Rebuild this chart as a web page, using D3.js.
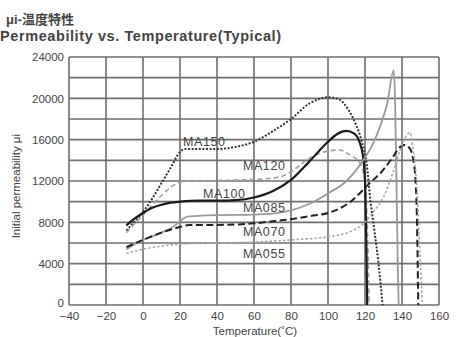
<!DOCTYPE html>
<html>
<head>
<meta charset="utf-8">
<script src="https://cdn.jsdelivr.net/npm/d3@7"></script>
<style>
  body { margin: 0; background: #fff; }
  text { font-family: "Liberation Sans", Arial, sans-serif; fill: #444; }
</style>
</head>
<body>
<div id="chart"></div>
<script>
// temperature (degC) / initial permeability readings per grade
let ma150 = [[-9, 7200], [-5, 8000], [0, 9000], [5, 10300], [10, 11800], [15, 13300], [20, 14800], [23, 15100],
  [30, 15100], [40, 15100], [50, 15300], [60, 15800], [70, 16800], [80, 18000], [90, 19500], [100, 20100],
  [106, 19900], [111, 18900], [115, 17500], [118, 16000], [121, 13500], [123, 10000], [125, 7300], [127, 4500], [129.5, 0]];
let ma120 = [[-9, 7000], [-5, 7800], [0, 8700], [5, 9700], [10, 10600], [15, 11400], [20, 11900], [25, 12000],
  [40, 12050], [60, 12150], [74, 12400], [80, 12900], [90, 14200], [100, 14900], [106, 15000], [112, 14500],
  [117, 13800], [120, 12000], [121.5, 6000], [122.3, 0]];
let ma100 = [[-9, 7700], [-5, 8300], [0, 8900], [5, 9400], [10, 9700], [15, 9900], [20, 10000], [30, 10100],
  [40, 10100], [50, 10150], [60, 10400], [70, 11000], [80, 12100], [90, 13900], [100, 15800], [105, 16550],
  [110, 16850], [114, 16600], [117, 15800], [119, 14300], [120, 12000], [120.7, 6000], [121.2, 0]];
let ma085 = [[-9, 5400], [0, 6300], [10, 7000], [18, 7800], [21, 8250], [24, 8550], [40, 8700], [60, 8750],
  [70, 8850], [80, 9150], [90, 9800], [100, 10800], [110, 12000], [119, 14000], [124, 15500], [128, 17200],
  [132, 19500], [135.5, 22700], [136.3, 19500], [137, 12000], [137.7, 4000], [138.2, 0]];
let ma070 = [[-9, 5600], [0, 6300], [10, 7000], [20, 7550], [25, 7750], [40, 7750], [60, 7900], [70, 8100],
  [80, 8300], [90, 8600], [100, 8900], [112, 9970], [122, 11700], [130, 13100], [135, 14300], [139, 15300],
  [141, 15480], [144, 15200], [146, 14200], [147, 12800], [148, 8900], [148.8, 0]];
let ma055 = [[-9, 5000], [0, 5400], [10, 5700], [20, 5900], [40, 6000], [60, 6100], [80, 6300], [100, 6600],
  [112, 7100], [120, 8000], [124, 8900], [130, 10450], [135, 12770], [139, 15000], [142, 16300], [144.3, 16700],
  [146, 15000], [148, 11500], [149.7, 5000], [151, 0]];

let seriesNames = ["MA150", "MA120", "MA100", "MA085", "MA070", "MA055"];
let seriesData = [ma150, ma120, ma100, ma085, ma070, ma055];

let xTicks = [-40, -20, 0, 20, 40, 60, 80, 100, 120, 140, 160];
let yTicks = [0, 4000, 8000, 12000, 16000, 20000, 24000];
let yGrid = [0, 2000, 4000, 6000, 8000, 10000, 12000, 14000, 16000, 18000, 20000, 22000, 24000];

let styles = {
  MA150: { stroke: "#333", width: 2, dash: "2,1.6" },
  MA120: { stroke: "#a0a0a0", width: 1.6, dash: "5,3" },
  MA100: { stroke: "#1a1a1a", width: 2.2, dash: null },
  MA085: { stroke: "#9a9a9a", width: 1.8, dash: null },
  MA070: { stroke: "#222", width: 2, dash: "7,3.5" },
  MA055: { stroke: "#a8a8a8", width: 1.6, dash: "2.5,2" }
};
// label anchor: [temperature, permeability] where the label text starts
let labelPos = {
  MA150: [21.6, 15770], MA120: [54, 13450], MA100: [32.4, 10740],
  MA085: [54, 9390], MA070: [54, 7060], MA055: [54, 4930]
};

let width = 456, height = 337;
let margin = { top: 57, right: 17, bottom: 32, left: 69 };

let svg = d3.select("#chart").append("svg")
  .attr("width", width)
  .attr("height", height);

let x = d3.scaleLinear().domain([-40, 160]).range([margin.left, width - margin.right]);
let y = d3.scaleLinear().domain([0, 24000]).range([height - margin.bottom, margin.top]);

// grid
svg.append("g").selectAll("line")
  .data(yGrid)
  .enter().append("line")
  .attr("x1", x(-40)).attr("x2", x(160))
  .attr("y1", d => y(d)).attr("y2", d => y(d))
  .attr("stroke", "#6e6e6e").attr("stroke-width", 1.6);

svg.append("g").selectAll("line")
  .data(xTicks)
  .enter().append("line")
  .attr("x1", d => x(d)).attr("x2", d => x(d))
  .attr("y1", y(0)).attr("y2", y(24000))
  .attr("stroke", "#6e6e6e").attr("stroke-width", 1.6);

// axes (labels only)
let yAxis = svg.append("g")
  .attr("transform", "translate(" + x(-40) + ",0)")
  .call(d3.axisLeft(y).tickValues(yTicks).tickSize(0).tickPadding(5).tickFormat(d3.format("d")));
let xAxis = svg.append("g")
  .attr("transform", "translate(0," + y(0) + ")")
  .call(d3.axisBottom(x).tickValues(xTicks).tickSize(0).tickPadding(7)
    .tickFormat(d => d < 0 ? "\u2212" + Math.abs(d) : d));
[yAxis, xAxis].forEach(a => {
  a.select(".domain").remove();
  a.selectAll("text").style("font-size", "11.5px").style("font-family", "\"Liberation Sans\", Arial, sans-serif").attr("fill", "#555");
});
yAxis.selectAll("text").filter(d => d === 0).attr("dy", "0.1em");

// curves
let line = d3.line()
  .x(d => x(d[0]))
  .y(d => y(d[1]))
  .curve(d3.curveMonotoneX);

seriesNames.forEach((name, i) => {
  let s = styles[name];
  svg.append("path")
    .datum(seriesData[i])
    .attr("fill", "none")
    .attr("stroke", s.stroke)
    .attr("stroke-width", s.width)
    .attr("stroke-dasharray", s.dash)
    .attr("d", line);
  svg.append("text")
    .attr("x", x(labelPos[name][0]))
    .attr("y", y(labelPos[name][1]))
    .attr("dy", "0.35em")
    .attr("textLength", 42)
    .style("font-size", "12.5px")
    .attr("fill", "#555")
    .text(name);
});

// titles
svg.append("text")
  .attr("x", 6).attr("y", 24)
  .style("font-size", "13px").style("font-weight", "bold")
  .style("font-family", "\"Liberation Sans\", \"Noto Sans CJK JP\", sans-serif")
  .attr("fill", "#333")
  .text("\u03bci-温度特性");
svg.append("text")
  .attr("x", 0).attr("y", 41)
  .attr("textLength", 281)
  .style("font-size", "14.5px").style("font-weight", "bold")
  .attr("fill", "#333")
  .text("Permeability vs. Temperature(Typical)");

svg.append("text")
  .attr("transform", "translate(20," + y(11500) + ") rotate(-90)")
  .attr("text-anchor", "middle")
  .style("font-size", "11.5px")
  .attr("fill", "#555")
  .text("Initial permeability \u03bci");
svg.append("text")
  .attr("x", 255).attr("y", 335)
  .attr("text-anchor", "middle")
  .style("font-size", "11.5px")
  .attr("fill", "#555")
  .text("Temperature(\u02daC)");
</script>
</body>
</html>
